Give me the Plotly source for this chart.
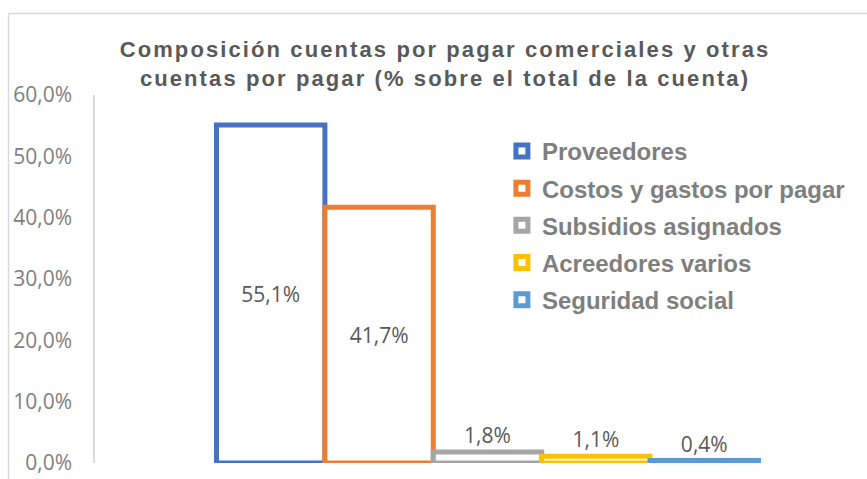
import plotly.graph_objects as go

# ---- data ----
series_names = ["Proveedores", "Costos y gastos por pagar", "Subsidios asignados",
                "Acreedores varios", "Seguridad social"]
series_values = [55.1, 41.7, 1.8, 1.1, 0.4]
series_colors = ["#4472C4", "#ED7D31", "#A5A5A5", "#FFC000", "#5B9BD5"]
label_positions = ["inside", "inside", "outside", "outside", "outside"]
y_tick_values = [0, 10, 20, 30, 40, 50, 60]
y_tick_labels = ["0,0%", "10,0%", "20,0%", "30,0%", "40,0%", "50,0%", "60,0%"]
title_lines = ["Composición cuentas por pagar comerciales y otras",
               "cuentas por pagar (% sobre el total de la cuenta)"]

W, H = 867, 479
L, R, T, B = 95, 10, 95, 16

fig = go.Figure()
for i, (name, val, col, pos) in enumerate(zip(series_names, series_values, series_colors, label_positions)):
    fig.add_trace(go.Bar(
        x=[i], y=[val], width=1, name=name, legendgroup=name,
        marker=dict(color="white", line=dict(color=col, width=5)),
        texttemplate="%{y:.1f}%", textposition=pos, insidetextanchor="middle",
        constraintext="none", cliponaxis=False,
        textfont=dict(family="Open Sans", size=21, color="#595959"),
        hoverinfo="skip",
    ))

title_text = "<br>".join(title_lines)
fig.update_layout(
    width=W, height=H,
    margin=dict(l=L, r=R, t=T, b=B, pad=0, autoexpand=False),
    paper_bgcolor="white", plot_bgcolor="white",
    separators=",.",
    barmode="overlay",
    title=dict(
        text="<span style='letter-spacing:2.1px'>" + title_text + "</span>",
        x=445 / W, xref="container", xanchor="center",
        y=1 - 57 / H, yref="container", yanchor="middle",
        font=dict(family="Liberation Sans", size=22, color="#595959", weight="bold"),
    ),
    xaxis=dict(range=[-1.621, 5.409], visible=False, fixedrange=True, automargin=False),
    yaxis=dict(range=[0, 60], tickvals=y_tick_values, ticktext=y_tick_labels,
               showgrid=False, zeroline=False, showline=True, linecolor="#D9D9D9",
               linewidth=1.5, ticks="", ticklabelstandoff=17, automargin=False,
               tickfont=dict(family="Open Sans", size=21, color="#808080")),
    legend=dict(x=0.534, xanchor="left", y=0.908, yanchor="top",
                font=dict(family="Liberation Sans", size=24, color="#7F7F7F", weight="bold"),
                tracegroupgap=3, bgcolor="rgba(0,0,0,0)", borderwidth=0,
                traceorder="grouped"),
    showlegend=True,
)

# chart outer border (partially cropped in the reference)
bx = (8.5 - L) / (W - L - R)
by = (H - B - 13.5) / (H - T - B)
fig.add_shape(type="line", xref="paper", yref="paper", x0=bx, x1=1.2, y0=by, y1=by,
              line=dict(color="#D9D9D9", width=1.5), layer="below")
fig.add_shape(type="line", xref="paper", yref="paper", x0=bx, x1=bx, y0=-0.2, y1=by,
              line=dict(color="#D9D9D9", width=1.5), layer="below")

fig.write_html("out.html")
